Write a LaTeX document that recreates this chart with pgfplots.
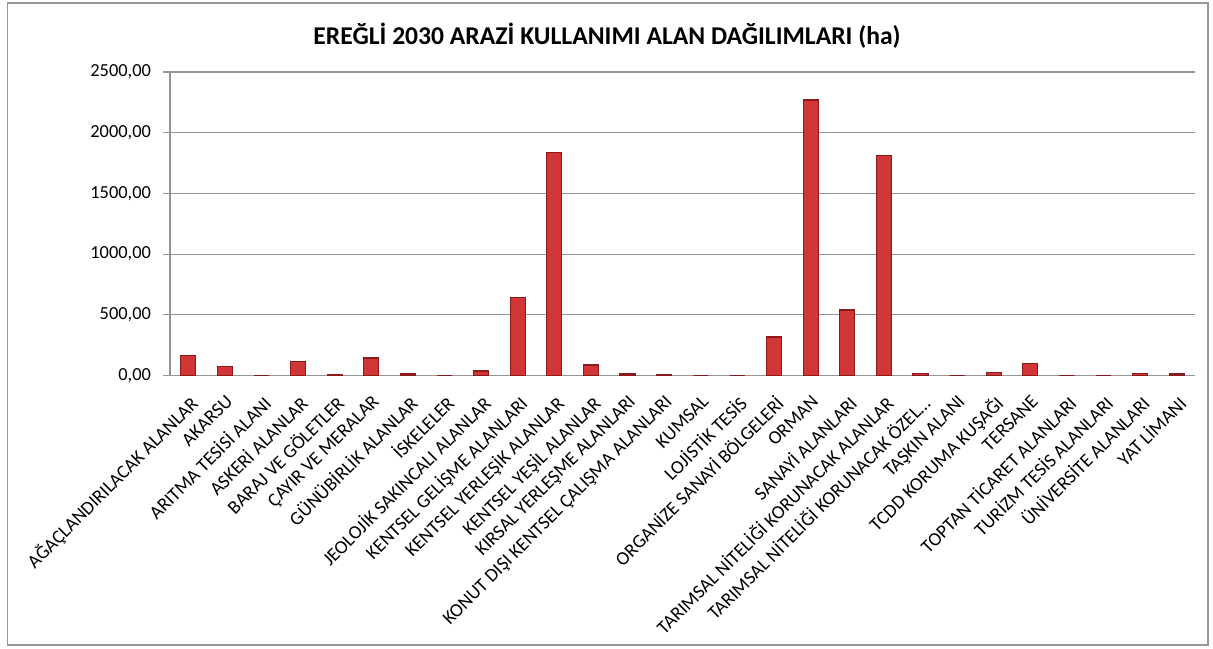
\documentclass[border=0pt]{standalone}
\usepackage{fontspec}
\setmainfont{Carlito}
\usepackage{pgfplots}
\pgfplotsset{compat=1.18}
\definecolor{barmid}{RGB}{208,54,54}
\definecolor{baredge}{RGB}{140,26,28}
\definecolor{gridc}{RGB}{150,150,150}
\begin{document}
\begin{tikzpicture}
\path (0,0) rectangle (606.5pt,324pt);
\draw[gridc, line width=0.8pt] (3.75pt,1.5pt) rectangle (604pt,322.5pt);
\node[font=\fontsize{12.8}{15}\selectfont\bfseries] at (303.5pt,306pt) {EREĞLİ 2030 ARAZİ KULLANIMI ALAN DAĞILIMLARI (ha)};
\begin{axis}[
  at={(85pt,136.25pt)}, anchor=origin,
  scale only axis, width=512.5pt, height=151.75pt,
  xmin=0.5, xmax=28.5, ymin=0, ymax=2500,
  axis x line*=bottom, axis y line*=left,
  axis line style={gridc, line width=0.6pt},
  ytick={0,500,...,2500},
  ymajorgrids, grid style={gridc, line width=0.6pt},
  tick align=outside, tick style={gridc, line width=0.6pt},
  major tick length=3.5pt,
  xtick={1,...,28},
  x tick style={draw=none},
  minor xtick={0.5,1.5,...,28.5},
  minor tick length=3pt,
  xminorgrids=false,
  minor x tick style={gridc, line width=0.6pt},
  xticklabels={AĞAÇLANDIRILACAK ALANLAR, AKARSU, ARITMA TESİSİ ALANI, ASKERİ ALANLAR, BARAJ VE GÖLETLER, ÇAYIR VE MERALAR, GÜNÜBİRLİK ALANLAR, İSKELELER, JEOLOJİK SAKINCALI ALANLAR, KENTSEL GELİŞME ALANLARI, KENTSEL YERLEŞİK ALANLAR, KENTSEL YEŞİL ALANLAR, KIRSAL YERLEŞME ALANLARI, KONUT DIŞI KENTSEL ÇALIŞMA ALANLARI, KUMSAL, LOJİSTİK TESİS, ORGANİZE SANAYİ BÖLGELERİ, ORMAN, SANAYİ ALANLARI, TARIMSAL NİTELİĞİ KORUNACAK ALANLAR, {TARIMSAL NİTELİĞİ KORUNACAK ÖZEL\ldots}, TAŞKIN ALANI, TCDD KORUMA KUŞAĞI, TERSANE, TOPTAN TİCARET ALANLARI, TURİZM TESİS ALANLARI, ÜNİVERSİTE ALANLARI, YAT LİMANI},
  x tick label style={font=\fontsize{9.5}{11}\selectfont, yshift=-5.5pt, rotate=45, anchor=north east, inner sep=0pt},
  y tick label style={font=\fontsize{9.2}{10}\selectfont, xshift=-2.5pt},
  /pgf/number format/assume math mode=true,
  yticklabel={\pgfmathprintnumber[fixed, fixed zerofill, precision=2, use comma, 1000 sep={}]{\tick}},
  ybar, bar width=7.5pt,
]
\addplot[ybar, draw=baredge, line width=0.6pt, fill=barmid] coordinates {
(1,165) (2,77) (3,0) (4,118) (5,5) (6,144) (7,12) (8,0) (9,37) (10,640)
(11,1838) (12,87) (13,12) (14,4) (15,0) (16,0) (17,317) (18,2270) (19,540) (20,1810)
(21,18) (22,0) (23,28) (24,97) (25,0) (26,0) (27,18) (28,12)
};
\end{axis}
\pgfresetboundingbox
\path[use as bounding box] (0,0) rectangle (606.5pt,324pt);
\end{tikzpicture}
\end{document}
